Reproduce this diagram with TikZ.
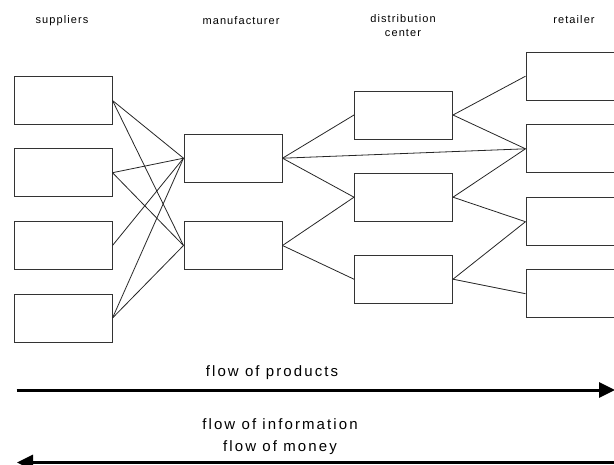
\documentclass[tikz,border=0pt]{standalone}
\usepackage{fontspec}
\setmainfont{Liberation Sans}
\newfontfamily\hdrfont[LetterSpace=10]{Liberation Sans}
\newfontfamily\flowfont[LetterSpace=14]{Liberation Sans}
\usetikzlibrary{arrows.meta}
\begin{document}
\begin{tikzpicture}[x=1pt,y=-1pt,
  box/.style={draw=black!80, line width=1pt, minimum width=98pt, minimum height=48pt, inner sep=0pt},
  link/.style={draw=black!85, line width=0.8pt},
  hdr/.style={font=\hdrfont\fontsize{11}{14}\selectfont, align=center, inner sep=0pt},
  flowlbl/.style={font=\flowfont\fontsize{15}{22}\selectfont, align=center, inner sep=0pt},
  flow/.style={line width=3pt, -{Triangle[length=16pt,width=15pt]}}]
\useasboundingbox (0,0) rectangle (614,464);

% headers
\node[hdr] (hs) at (62,21) {suppliers};
\node[hdr] (hm) at (241,21) {manufacturer};
\node[hdr] (hd) at (403,26) {distribution\\center};
\node[hdr] (hr) at (574,20) {retailer};

% suppliers
\node[box] (s1) at (63,100.5) {};
\node[box] (s2) at (63,172.7) {};
\node[box] (s3) at (63,245.5) {};
\node[box] (s4) at (63,318) {};
% manufacturer
\node[box] (m1) at (233,158.2) {};
\node[box] (m2) at (233,245.5) {};
% distribution centers
\node[box] (d1) at (403.5,115) {};
\node[box] (d2) at (403.5,197.2) {};
\node[box] (d3) at (403.5,279.2) {};
% retailers
\node[box] (r1) at (575,76.2) {};
\node[box] (r2) at (575,148.8) {};
\node[box] (r3) at (575,221.7) {};
\node[box] (r4) at (575,293.7) {};

% links
\draw[link] (s1.east) -- (m1.west);
\draw[link] (s1.east) -- (m2.west);
\draw[link] (s2.east) -- (m1.west);
\draw[link] (s2.east) -- (m2.west);
\draw[link] (s3.east) -- (m1.west);
\draw[link] (s4.east) -- (m1.west);
\draw[link] (s4.east) -- (m2.west);
\draw[link] (m1.east) -- (d1.west);
\draw[link] (m1.east) -- (r2.west);
\draw[link] (m1.east) -- (d2.west);
\draw[link] (m2.east) -- (d2.west);
\draw[link] (m2.east) -- (d3.west);
\draw[link] (d1.east) -- (r1.west);
\draw[link] (d1.east) -- (r2.west);
\draw[link] (d2.east) -- (r2.west);
\draw[link] (d2.east) -- (r3.west);
\draw[link] (d3.east) -- (r3.west);
\draw[link] (d3.east) -- (r4.west);

% flows
\node[flowlbl] (fp) at (272,373) {flow of products};
\node[flowlbl] (fi) at (280,437) {flow of information\\flow of money};
\coordinate (a1s) at (16.5,390);
\coordinate (a1e) at (615,390);
\coordinate (a2s) at (616,462.5);
\coordinate (a2e) at (17,462.5);
\draw[flow] (a1s) -- (a1e);
\draw[flow] (a2s) -- (a2e);
\end{tikzpicture}
\end{document}
